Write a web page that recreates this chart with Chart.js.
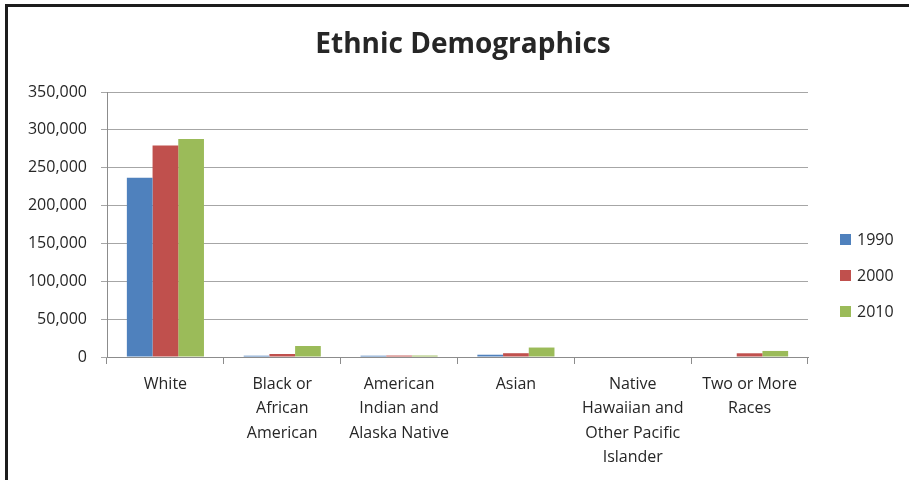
<!DOCTYPE html>
<html>
<head>
<meta charset="utf-8">
<script src="https://cdn.jsdelivr.net/npm/chart.js@4"></script>
<style>
  body { margin: 0; background: #fff; }
  #wrap { position: relative; width: 909px; height: 480px; overflow: hidden; }
  #frame { position: absolute; left: 5px; top: 4px; width: 920px; height: 500px;
           border-left: 3px solid #1c1c1c; border-top: 3px solid #1c1c1c; pointer-events: none; }
</style>
</head>
<body>
<div id="wrap">
  <canvas id="chart" width="909" height="480"></canvas>
  <div id="frame"></div>
</div>
<script>
const categories = [
  "White",
  ["Black or", "African", "American"],
  ["American", "Indian and", "Alaska Native"],
  "Asian",
  ["Native", "Hawaiian and", "Other Pacific", "Islander"],
  ["Two or More", "Races"],
];
const years = ["1990", "2000", "2010"];
const values1990 = [236800, 1700, 1700, 3000, 0, 0];
const values2000 = [279300, 4000, 1900, 5000, 0, 4900];
const values2010 = [288000, 14500, 1900, 12500, 0, 8000];
const colors = ["#4f81bd", "#c0504d", "#9bbb59"];
const yTicks = [0, 50000, 100000, 150000, 200000, 250000, 300000, 350000];
const chartTitle = "Ethnic Demographics";

const textColor = "#262626";
const fontFamily = "'Open Sans', sans-serif";

// title centred on the whole frame, legend on the right
const extras = {
  id: "extras",
  afterDraw(c) {
    const ctx = c.ctx;
    ctx.save();
    ctx.fillStyle = textColor;
    ctx.font = `bold 28px ${fontFamily}`;
    ctx.textAlign = "center";
    ctx.textBaseline = "middle";
    ctx.fillText(chartTitle, 463, 45);

    ctx.textAlign = "left";
    ctx.font = `16px ${fontFamily}`;
    c.data.datasets.forEach((ds, i) => {
      const y = 240 + i * 36;
      ctx.fillStyle = ds.backgroundColor;
      ctx.fillRect(840, y - 6, 11, 11);
      ctx.fillStyle = textColor;
      ctx.fillText(ds.label, 857, y);
    });
    ctx.restore();
  },
};

new Chart(document.getElementById("chart"), {
  type: "bar",
  data: {
    labels: categories,
    datasets: [values1990, values2000, values2010].map((vals, i) => ({
      label: years[i],
      data: vals,
      backgroundColor: colors[i],
      borderWidth: 0,
      barPercentage: 1,
      categoryPercentage: 0.66,
    })),
  },
  options: {
    responsive: false,
    animation: false,
    layout: { padding: { left: 0, right: 101, top: 92, bottom: 0 } },
    plugins: {
      legend: { display: false },
      tooltip: { enabled: false },
      title: { display: false },
    },
    scales: {
      x: {
        grid: { offset: true, drawOnChartArea: false, color: "#8c8c8c", tickLength: 7 },
        border: { color: "#8c8c8c" },
        ticks: {
          color: textColor,
          maxRotation: 0,
          autoSkip: false,
          padding: 8,
          font: { family: fontFamily, size: 16, lineHeight: 1.53 },
        },
        afterFit(s) { s.height = 123; },
      },
      y: {
        min: 0,
        max: 350000,
        afterBuildTicks(s) { s.ticks = yTicks.map((v) => ({ value: v })); },
        grid: { color: "#a6a6a6", tickLength: 6 },
        border: { color: "#8c8c8c" },
        ticks: {
          color: textColor,
          padding: 14,
          font: { family: fontFamily, size: 16 },
          callback: (v) => Number(v).toLocaleString("en-US"),
        },
        afterFit(s) { s.width = 107; },
      },
    },
  },
  plugins: [extras],
});
</script>
</body>
</html>
